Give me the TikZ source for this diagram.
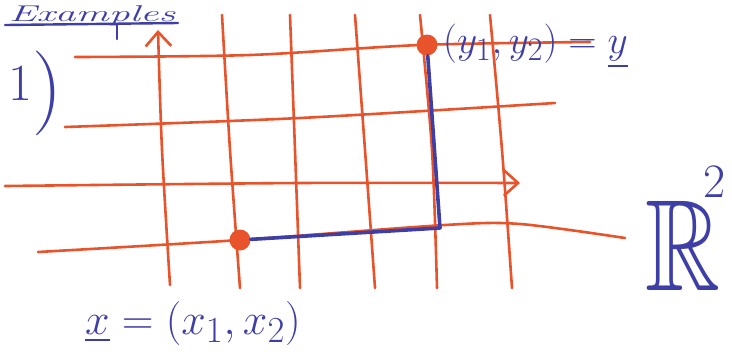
\documentclass[tikz,border=0pt]{standalone}
\usepackage{graphicx}
\usepackage{amsmath,amssymb}
\usetikzlibrary{arrows.meta,positioning}
\definecolor{Grid}{HTML}{E8532B}
\definecolor{Pen}{HTML}{3E3FA6}
\tikzset{
 gridline/.style={draw=Grid,line width=2.6pt,line cap=round},
 axisline/.style={gridline,-{Straight Barb[length=5mm,width=9mm]}},
 move/.style={draw=Pen,line width=3.6pt,line join=round,line cap=round},
 pt/.style={circle,fill=Grid,inner sep=0pt,minimum size=21pt},
 pen/.style={text=Pen,inner sep=0pt,font=\Huge},
 stroke/.style={draw=Pen,line width=2.4pt,line cap=round}
}
\begin{document}
\begin{tikzpicture}[x=1pt,y=-1pt]
\useasboundingbox (0,0) rectangle (732,360);
% grid, vertical lines
\foreach \a/\b/\c in {222/230/240,290/295/300,355/365/375,420/432/437,490/502/512}
  \draw[gridline] plot[smooth] coordinates {(\a,15) (\b,150) (\c,288)};
\draw[axisline] plot[smooth] coordinates {(170,285) (162,150) (158,30)};
% grid, horizontal lines
\draw[gridline] plot[smooth] coordinates {(75,57) (250,55) (420,45) (590,42)};
\draw[gridline] plot[smooth] coordinates {(65,127) (300,118) (555,103)};
\draw[axisline] plot[smooth] coordinates {(5,186) (300,183) (520,183)};
\draw[gridline] plot[smooth] coordinates {(38,252) (240,240) (445,225) (520,224) (625,238)};
% the two points
\node[pt] (x) at (240,240) {};
\node[pt] (y) at (427,45) {};
\coordinate (corner) at (440,228);
\draw[move] (x) -- (corner) -- (y);
% writing
\node[pen,font=\huge\itshape,anchor=base] (title) at (92,21) {\scalebox{2}[1.1]{Examples}};
\draw[stroke] (5,25) -- (178,23);
\draw[stroke] (117,25) -- (117,39);
\node[pen,anchor=base west] (num) at (8,100) {\scalebox{2.1}{1}\raisebox{-14pt}{\scalebox{3.4}{)}}};
\node[pen,anchor=base west] (ylab) at (443,53) {\scalebox{1.58}{$(y_1,y_2)=\underline{y}$}};
\node[pen,anchor=base west] (xlab) at (85,334) {\scalebox{1.77}{$\underline{x}=(x_1,x_2)$}};
\node[pen,font=\fontsize{130}{130}\selectfont,anchor=base west,xscale=0.8] (space) at (645,290) {$\mathbb{R}$};
\node[pen,font=\fontsize{48}{48}\selectfont,anchor=base west] (pow) at (703,197) {2};
\end{tikzpicture}
\end{document}
